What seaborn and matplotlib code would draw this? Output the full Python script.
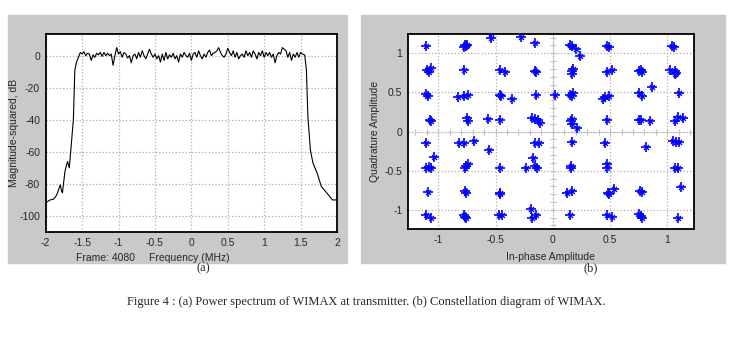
import numpy as np
import pandas as pd
import matplotlib
matplotlib.use("Agg")
import matplotlib.pyplot as plt
from matplotlib.patches import Rectangle
from matplotlib import font_manager
import seaborn as sns

# (a) power spectrum: roll-off edges + flat passband ripple (dB)
left_freq = [-2.0, -1.94, -1.89, -1.85, -1.80, -1.78, -1.77, -1.735, -1.70, -1.676,
             -1.64, -1.62, -1.60, -1.575, -1.55]
left_db = [-91.8, -90, -89.5, -87, -80.6, -84.8, -85.5, -72, -66, -70,
           -50.5, -40, -9, -3.7, -1]
flat_db = [2, 1, 2.5, 0, 1.5, 1, -3, 0.5, -1, 1.5, 0.5, 2, -0.5, 2, 0, 1.5, 0, 1,
           -6, 0, 5, 1, 2.5, -1, 2, 1, -1.5, 0, -4.5, 0, 1, -2, 2, -1, 3, 0, -2, 1,
           4, 1, -1, 1, -2, 0, -4, 1, -3, 2, -2, 0.5, -1, 1.5, -2, 0, -4, 1, -1, 2,
           0, -1, 1.5, -3, 1, 2, -1, 3, 0, -2, 1, -1, 2, 3.5, 0, 1.5, 2, 3, 5, 2,
           0, -1, 1, 4.5, 2, 0, 3, -1, 2, -2, 0, 1, -1, 3, 0, 2, -1, 3, 1, -2, 2,
           0, 3, -1, 2, 0, 2, -1, 1, -4.5, 0, 2, 1, 5, 4, 3, -1, 2, -3, 1, -1, 2,
           -1, 2, 1]
right_freq = [1.557, 1.58, 1.60, 1.635, 1.67, 1.725, 1.786, 1.863, 1.937, 1.99]
right_db = [0.4, -9, -38, -59, -67, -73, -81.7, -85.8, -90, -90]

# (b) constellation points (in-phase, quadrature)
i_vals = [-1.11, -0.77, -0.76, -0.75, -0.78, -0.54, -0.54, -0.28, -0.16, 0.15, 0.17, 0.20, 0.24, 0.47, 0.49, 1.04, 1.06,
          -1.10, -1.06, -1.08, -0.78, -0.46, -0.42, -0.16, -0.15, 0.17, 0.18, 0.17, 0.47, 0.52, 0.75, 0.77, 0.78, 1.02, 1.07, 1.08, 1.07,
          -1.11, -1.09, -0.83, -0.78, -0.74, -0.46, -0.45, -0.36, -0.15, 0.02, 0.15, 0.17, 0.18, 0.44, 0.46, 0.49, 0.75, 0.78, 0.87, 1.10,
          -1.07, -1.06, -0.75, -0.74, -0.57, -0.46, -0.18, -0.16, -0.13, -0.11, 0.17, 0.16, 0.17, 0.21, 0.47, 0.75, 0.77, 0.85, 1.07, 1.09, 1.14,
          -1.11, -0.82, -0.78, -0.69, -0.56, -0.155, -0.12, 0.17, 0.46, 0.81, 1.05, 1.08, 1.10,
          -1.11, -1.08, -1.06, -1.04, -0.77, -0.76, -0.74, -0.46, -0.23, -0.175, -0.155, -0.14, 0.16, 0.16, 0.47, 0.47, 1.07, 1.09,
          -1.09, -0.77, -0.76, -0.46, -0.46, 0.12, 0.17, 0.48, 0.49, 0.53, 0.76, 0.78, 1.12,
          -1.11, -1.06, -0.78, -0.77, -0.76, -0.47, -0.44, -0.19, -0.18, -0.145, 0.15, 0.47, 0.52, 0.75, 0.77, 0.78, 1.09]
q_vals = [1.09, 1.10, 1.09, 1.11, 1.08, 1.26, 1.20, 1.21, 1.13, 1.10, 1.09, 1.06, 0.97, 1.09, 1.08, 1.09, 1.08,
          0.78, 0.81, 0.76, 0.79, 0.78, 0.76, 0.77, 0.76, 0.77, 0.80, 0.74, 0.76, 0.79, 0.77, 0.78, 0.76, 0.79, 0.77, 0.75, 0.73,
          0.48, 0.46, 0.44, 0.45, 0.47, 0.47, 0.45, 0.42, 0.47, 0.47, 0.47, 0.46, 0.49, 0.42, 0.44, 0.46, 0.49, 0.46, 0.57, 0.49,
          0.15, 0.14, 0.17, 0.14, 0.16, 0.145, 0.17, 0.16, 0.145, 0.11, 0.16, 0.14, 0.09, 0.05, 0.145, 0.15, 0.15, 0.13, 0.13, 0.18, 0.17,
          -0.145, -0.145, -0.145, -0.12, -0.23, -0.15, -0.15, -0.13, -0.145, -0.20, -0.12, -0.13, -0.13,
          -0.46, -0.45, -0.47, -0.32, -0.46, -0.44, -0.41, -0.46, -0.46, -0.34, -0.44, -0.46, -0.44, -0.47, -0.42, -0.47, -0.46, -0.47,
          -0.77, -0.76, -0.78, -0.78, -0.80, -0.79, -0.76, -0.78, -0.80, -0.73, -0.76, -0.77, -0.71,
          -1.06, -1.10, -1.07, -1.09, -1.11, -1.07, -1.07, -0.99, -1.10, -1.07, -1.06, -1.06, -1.09, -1.05, -1.08, -1.10, -1.10]

caption = "Figure 4 : (a) Power spectrum of WIMAX at transmitter. (b) Constellation diagram of WIMAX."

flat_freq = np.linspace(-1.525, 1.525, len(flat_db))
spec = pd.DataFrame({
    "freq": np.concatenate([left_freq, flat_freq, right_freq]),
    "db": np.concatenate([left_db, flat_db, right_db]),
})
const = pd.DataFrame({"i": i_vals, "q": q_vals})

sns.set_style("white")
installed = {f.name for f in font_manager.fontManager.ttflist}
narrow = "Liberation Sans Narrow" in installed
plt.rcParams["font.family"] = (["Liberation Sans Narrow"] if narrow else []) + ["Liberation Sans", "DejaVu Sans"]
plt.rcParams["axes.unicode_minus"] = False

W, H = 739, 362
fig = plt.figure(figsize=(W / 100, H / 100), dpi=100)
fig.patch.set_facecolor("white")
grey = "#c9c9c9"
fig.patches.append(Rectangle((8 / W, 1 - 263 / H), 339 / W, 248 / H,
                             transform=fig.transFigure, color=grey, zorder=-5))
fig.patches.append(Rectangle((361 / W, 1 - 263 / H), 364 / W, 248 / H,
                             transform=fig.transFigure, color=grey, zorder=-5))

tick_fs = 8.5 if narrow else 7.5
grid_kw = dict(color="#b4a9b4", linestyle=":", linewidth=0.9)

# ---- (a) spectrum
ax1 = fig.add_axes([45.7 / W, 1 - 232 / H, 291.3 / W, 198 / H])
sns.lineplot(data=spec, x="freq", y="db", ax=ax1, color="black", linewidth=0.8,
             sort=False, estimator=None)
ax1.set_xlim(-2, 2)
ax1.set_ylim(-110, 13.5)
ax1.set_xticks([-2, -1.5, -1, -0.5, 0, 0.5, 1, 1.5, 2])
ax1.set_xticklabels(["-2", "-1.5", "-1", "-0.5", "0", "0.5", "1", "1.5", "2"])
ax1.set_yticks([0, -20, -40, -60, -80, -100])
ax1.grid(True, **grid_kw)
ax1.set_xlabel("")
ax1.set_ylabel("Magnitude-squared, dB", fontsize=tick_fs)
ax1.yaxis.set_label_coords(-0.093, 0.5)
ax1.text(-1.58, -126, "Frame: 4080", fontsize=tick_fs, ha="left", va="center")
ax1.text(-0.03, -126, "Frequency (MHz)", fontsize=tick_fs, ha="center", va="center")

# ---- (b) constellation
ax2 = fig.add_axes([408 / W, 1 - 229 / H, 286 / W, 195 / H])
ax2.axhline(0, color="#c8c8c8", linewidth=0.8, linestyle=(0, (2, 1)), zorder=1)
ax2.axvline(0, color="#c8c8c8", linewidth=0.8, linestyle=(0, (2, 1)), zorder=1)
minor = np.round(np.arange(-1.2, 1.25, 0.1), 2)
ax2.plot(minor, np.zeros_like(minor), linestyle="none", marker="|", color="#c0c0c0",
         markersize=5, markeredgewidth=0.8, zorder=1)
ax2.plot(np.zeros_like(minor), minor, linestyle="none", marker="_", color="#c0c0c0",
         markersize=5, markeredgewidth=0.8, zorder=1)
sns.scatterplot(data=const, x="i", y="q", ax=ax2, marker="+", color="#0000ff",
                s=45, linewidth=1.2, zorder=3)
sns.scatterplot(data=const, x="i", y="q", ax=ax2, marker="x", color="#0000ff",
                s=12, linewidth=1.0, zorder=3)
ax2.set_xlim(-1.265, 1.233)
ax2.set_ylim(-1.245, 1.246)
ax2.set_xticks([-1, -0.5, 0, 0.5, 1])
ax2.set_xticklabels(["-1", "-0.5", "0", "0.5", "1"])
ax2.set_yticks([-1, -0.5, 0, 0.5, 1])
ax2.set_yticklabels(["-1", "-0.5", "0", "0.5", "1"])
ax2.grid(True, **grid_kw)
ax2.set_xlabel("In-phase Amplitude", fontsize=tick_fs, labelpad=5)
ax2.set_ylabel("Quadrature Amplitude", fontsize=tick_fs)
ax2.yaxis.set_label_coords(-0.098, 0.5)

for ax in (ax1, ax2):
    ax.set_facecolor("white")
    ax.set_axisbelow(True)
    ax.tick_params(labelsize=tick_fs, length=0, pad=4)
    for sp in ax.spines.values():
        sp.set_visible(True)
        sp.set_color("black")
        sp.set_linewidth(1.3)

serif = ["Liberation Serif", "DejaVu Serif"]
fig.text(203 / W, 1 - 268 / H, "(a)", family=serif, fontsize=9, ha="center", va="center")
fig.text(591 / W, 1 - 268 / H, "(b)", family=serif, fontsize=9, ha="center", va="center")
fig.text(366 / W, 1 - 302 / H, caption, family=serif, fontsize=9, ha="center", va="center")

fig.savefig("out.png", dpi=100)
